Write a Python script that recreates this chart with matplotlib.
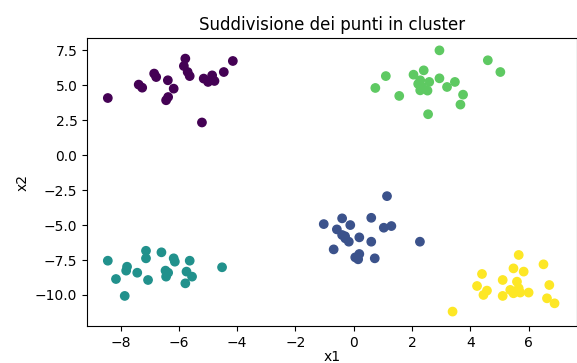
import matplotlib
matplotlib.use('Agg')
from matplotlib import pyplot as plt

# punti per cluster (x1, x2)
x_viola = [-8.44, -7.38, -7.26, -6.85, -6.78, -6.38, -6.18, -6.44, -6.37, -5.78,
           -5.83, -5.70, -5.63, -5.15, -5.00, -4.86, -4.78, -4.46, -4.15, -5.21]
y_viola = [4.09, 5.05, 4.83, 5.84, 5.59, 5.36, 4.76, 3.93, 4.16, 6.91,
           6.38, 5.95, 5.66, 5.48, 5.24, 5.71, 5.31, 5.95, 6.74, 2.34]

x_blu = [1.14, -1.03, -0.40, -0.12, -0.58, -0.40, -0.29, -0.17, 0.19, 0.60,
         0.60, 1.03, 1.29, -0.69, 0.05, 0.19, 0.15, 0.72, 2.27, -0.30]
y_blu = [-2.93, -4.93, -4.52, -5.00, -5.31, -5.71, -5.95, -6.19, -5.88, -4.48,
         -6.19, -5.19, -5.07, -6.74, -7.31, -7.07, -7.45, -7.38, -6.19, -5.80]

x_teal = [-8.44, -8.16, -7.86, -7.78, -7.81, -7.43, -7.13, -7.13, -7.06, -6.60,
          -6.18, -6.14, -6.46, -6.37, -6.44, -5.63, -5.74, -5.55, -5.78, -4.52]
y_teal = [-7.55, -8.86, -10.07, -7.98, -8.26, -8.41, -6.84, -7.38, -8.93, -6.95,
          -7.38, -7.62, -8.26, -8.41, -8.69, -7.55, -8.33, -8.69, -9.17, -8.02]

x_verde = [2.94, 4.60, 5.03, 1.10, 0.74, 1.56, 2.05, 2.40, 2.28, 2.21,
           2.34, 2.53, 2.28, 2.59, 2.94, 3.20, 3.47, 3.75, 3.66, 2.55]
y_verde = [7.50, 6.79, 5.95, 5.66, 4.81, 4.24, 5.76, 6.07, 5.36, 5.10,
           4.88, 4.62, 4.64, 5.24, 5.50, 4.88, 5.24, 4.33, 3.62, 2.93]

x_giallo = [5.66, 6.51, 4.40, 5.48, 5.83, 5.11, 4.23, 4.57, 4.45, 5.60,
            5.66, 5.37, 5.48, 5.71, 6.00, 5.11, 6.71, 6.63, 6.89, 3.39]
y_giallo = [-7.14, -7.81, -8.50, -8.10, -8.33, -8.93, -9.36, -9.69, -10.00, -9.05,
            -9.52, -9.64, -9.88, -9.83, -9.83, -10.07, -9.29, -10.24, -10.60, -11.19]

x = x_viola + x_blu + x_teal + x_verde + x_giallo
y = y_viola + y_blu + y_teal + y_verde + y_giallo
labels = [0] * 20 + [1] * 20 + [2] * 20 + [3] * 20 + [4] * 20

fig = plt.figure(figsize=(5.77, 3.63), dpi=100)
ax = fig.add_axes([0.151, 0.102, 0.849, 0.792])

ax.scatter(x, y, c=labels, cmap='viridis')

ax.set_xlim(-9.15, 7.66)
ax.set_ylim(-12.22, 8.35)
ax.set_title('Suddivisione dei punti in cluster')
# etichetta x un po' più su per non tagliarla
ax.set_xlabel('x1', labelpad=0)
ax.set_ylabel('x2')

fig.savefig('out.png', dpi=100)
